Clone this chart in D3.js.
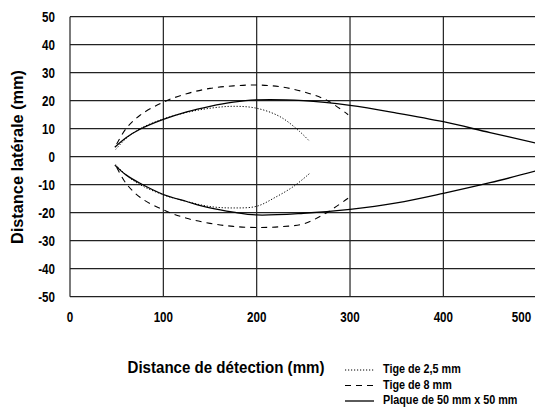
<!DOCTYPE html>
<html>
<head>
<meta charset="utf-8">
<script src="https://cdn.jsdelivr.net/npm/d3@7"></script>
<style>
  html, body { margin: 0; padding: 0; background: #fff; }
  svg { display: block; font-family: "Liberation Sans", Arial, sans-serif; font-weight: bold; }
</style>
</head>
<body>
<svg id="chart" width="535" height="412"></svg>
<script>
'use strict';

// data
const xTicks = [0, 100, 200, 300, 400, 500];
const yTicks = [-50, -40, -30, -20, -10, 0, 10, 20, 30, 40, 50];

// Tige de 2,5 mm
const tige25Upper = [[49, 2.6], [60, 6.5], [75, 10], [100, 13.5], [125, 15.8], [150, 17.3], [175, 18], [200, 17.3], [225, 14.3], [246, 9], [257, 5.4]];
const tige25Lower = [[49, -2.8], [60, -6.5], [75, -10], [100, -13.6], [125, -16], [150, -17.8], [175, -18.3], [200, -17.7], [220, -14.5], [240, -10.5], [257, -5.9]];

// Tige de 8 mm
const tige8Upper = [[50, 4.5], [60, 10], [75, 14.8], [100, 19.5], [125, 22.5], [150, 24.4], [175, 25.3], [200, 25.6], [225, 25], [250, 23.2], [275, 20.2], [298, 15]];
const tige8Lower = [[50, -3.8], [60, -9.5], [75, -14.5], [100, -19], [125, -22], [150, -23.8], [175, -24.9], [200, -25.3], [225, -25], [250, -24], [275, -20], [298, -14.8]];

// Plaque de 50 mm x 50 mm
const plaqueUpper = [[48, 3.4], [60, 6.8], [75, 9.8], [100, 13.3], [125, 16], [150, 18], [175, 19.5], [200, 20.3], [250, 20], [300, 18.3], [350, 15.6], [400, 12.5], [450, 8.6], [500, 4.8]];
const plaqueLower = [[48, -3], [60, -6.5], [75, -9.5], [100, -13.5], [125, -16], [150, -18.3], [175, -19.8], [200, -20.8], [250, -20.2], [300, -18.8], [350, -16.5], [400, -13.1], [450, -9.3], [500, -5]];

const legendLabels = ['Tige de 2,5 mm', 'Tige de 8 mm', 'Plaque de 50 mm x 50 mm'];

// styles per series
const styles = [
  {dash: '1.2,1.8', width: 1},
  {dash: '6,5', width: 1.1},
  {dash: null, width: 1.3}
];
const series = [
  [tige25Upper, tige25Lower],
  [tige8Upper, tige8Lower],
  [plaqueUpper, plaqueLower]
];

const svg = d3.select('#chart');
const W = 535;
const squeeze = 0.83; // the original uses a narrow bold face

const x = d3.scaleLinear().domain([0, 500]).range([70, 536.7]);
const y = d3.scaleLinear().domain([-50, 50]).range([296.7, 16.7]);

// grid
svg.append('g')
  .selectAll('line')
  .data(yTicks)
  .enter().append('line')
    .attr('x1', x(0)).attr('x2', W)
    .attr('y1', d => y(d)).attr('y2', d => y(d))
    .attr('stroke', '#222').attr('stroke-width', 1.2);

svg.append('g')
  .selectAll('line')
  .data(xTicks)
  .enter().append('line')
    .attr('x1', d => x(d)).attr('x2', d => x(d))
    .attr('y1', y(50)).attr('y2', y(-50))
    .attr('stroke', '#222').attr('stroke-width', 1.2);

// tick labels
svg.append('g')
  .selectAll('text')
  .data(yTicks)
  .enter().append('text')
    .attr('transform', d => `translate(55,${y(d) + 5}) scale(${squeeze},1)`)
    .attr('text-anchor', 'end')
    .attr('font-size', 14)
    .text(d => d);

svg.append('g')
  .selectAll('text')
  .data(xTicks)
  .enter().append('text')
    .attr('transform', d => `translate(${Math.min(x(d), 521.5)},321.5) scale(${squeeze},1)`)
    .attr('text-anchor', 'middle')
    .attr('font-size', 14)
    .text(d => d);

// axis titles
svg.append('text')
  .attr('transform', 'translate(22.5,157) rotate(-90)')
  .attr('text-anchor', 'middle')
  .attr('font-size', 16.5)
  .attr('textLength', 174)
  .attr('lengthAdjust', 'spacingAndGlyphs')
  .text('Distance latérale (mm)');

svg.append('text')
  .attr('x', 226)
  .attr('y', 373)
  .attr('text-anchor', 'middle')
  .attr('font-size', 16.5)
  .attr('textLength', 197)
  .attr('lengthAdjust', 'spacingAndGlyphs')
  .text('Distance de détection (mm)');

// curves
const line = d3.line()
  .x(d => x(d[0]))
  .y(d => y(d[1]))
  .curve(d3.curveCatmullRom.alpha(0.5));

series.forEach((branches, i) => {
  svg.append('g')
    .selectAll('path')
    .data(branches)
    .enter().append('path')
      .attr('d', line)
      .attr('fill', 'none')
      .attr('stroke', '#000')
      .attr('stroke-width', styles[i].width)
      .attr('stroke-dasharray', styles[i].dash);
});

// legend
const legend = svg.append('g');
legendLabels.forEach((label, i) => {
  const ly = 369 + i * 15.5;
  legend.append('line')
    .attr('x1', 345).attr('x2', 374)
    .attr('y1', ly + 1).attr('y2', ly + 1)
    .attr('stroke', '#000')
    .attr('stroke-width', styles[i].width)
    .attr('stroke-dasharray', styles[i].dash);
  legend.append('text')
    .attr('transform', `translate(383,${ly + 4}) scale(0.9,1)`)
    .attr('font-size', 12)
    .text(label);
});
</script>
</body>
</html>
